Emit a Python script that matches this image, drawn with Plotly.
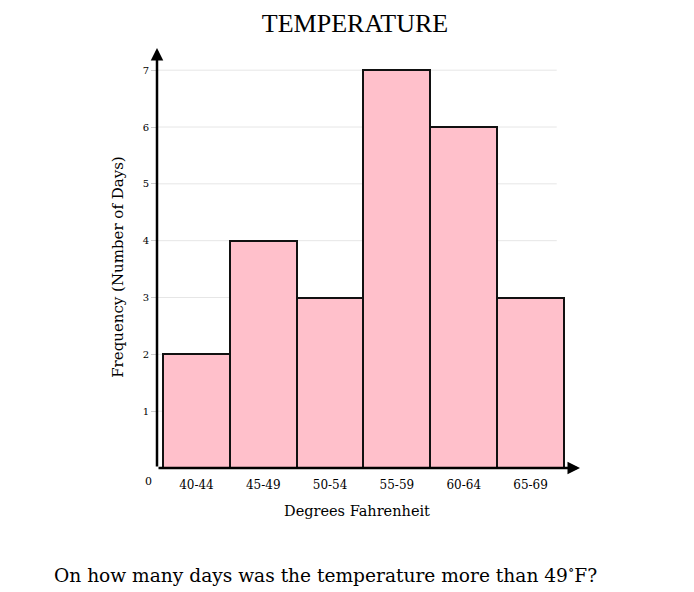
import plotly.graph_objects as go

categories = ["40-44", "45-49", "50-54", "55-59", "60-64", "65-69"]
frequencies = [2, 4, 3, 7, 6, 3]
y_ticks = [1, 2, 3, 4, 5, 6, 7]

X_MIN, X_MAX = -0.59, 5.74
Y_MAX = 7.39
SERIF = "DejaVu Serif"

fig = go.Figure()
fig.add_trace(go.Bar(
    x=list(range(len(categories))),
    y=frequencies,
    width=1,
    marker=dict(color="#FFC0CB", line=dict(color="#111111", width=2)),
    hoverinfo="skip",
))

# gridlines (end before the arrow tip, as in the reference)
for v in y_ticks:
    fig.add_shape(type="line", xref="paper", yref="y", x0=0, x1=0.945, y0=v, y1=v,
                  line=dict(color="#e6e6e6", width=1), layer="below")

annotations = [
    # axis arrows
    dict(x=X_MAX, y=0, ax=X_MIN, ay=0, xref="x", yref="y", axref="x", ayref="y",
         text="", showarrow=True, arrowhead=2, arrowsize=1, arrowwidth=2.5, arrowcolor="black"),
    dict(x=X_MIN, y=Y_MAX, ax=X_MIN, ay=0, xref="x", yref="y", axref="x", ayref="y",
         text="", showarrow=True, arrowhead=2, arrowsize=1, arrowwidth=2.5, arrowcolor="black"),
    # zero label
    dict(x=0, y=0, xref="paper", yref="y", text="0", showarrow=False,
         xanchor="center", yanchor="middle", xshift=-9, yshift=-13,
         font=dict(family=SERIF, size=11, color="black")),
    # axis titles
    dict(x=0.473, y=0, xref="paper", yref="paper", text="Degrees Fahrenheit", showarrow=False,
         xanchor="center", yanchor="middle", yshift=-43,
         font=dict(family=SERIF, size=14.5, color="black")),
    dict(x=0, y=0.479, xref="paper", yref="paper", text="Frequency (Number of Days)", showarrow=False,
         textangle=-90, xanchor="center", yanchor="middle", xshift=-39,
         font=dict(family=SERIF, size=15, color="black")),
    # question
    dict(x=0, y=0, xref="paper", yref="paper",
         text="On how many days was the temperature more than 49<sup>∘</sup>F?",
         showarrow=False, xanchor="left", yanchor="middle", xshift=-105, yshift=-106,
         font=dict(family=SERIF, size=18.6, color="black")),
]

fig.update_layout(
    width=694, height=592,
    margin=dict(l=149, r=122, t=40, b=132),
    paper_bgcolor="white", plot_bgcolor="white",
    showlegend=False,
    bargap=0,
    title=dict(text="TEMPERATURE", x=347 / 694, xanchor="center", y=1 - 15 / 592, yanchor="middle",
               xref="container", yref="container",
               font=dict(family="Liberation Serif", size=26, color="black")),
    xaxis=dict(range=[X_MIN, X_MAX], tickvals=list(range(len(categories))), ticktext=categories,
               showgrid=False, zeroline=False, showline=False, ticks="",
               ticklabelstandoff=8,
               tickfont=dict(family=SERIF, size=12, color="black")),
    yaxis=dict(range=[0, Y_MAX], tickvals=y_ticks, showgrid=False, zeroline=False, showline=False,
               ticks="outside", ticklen=5, tickcolor="#cccccc",
               tickfont=dict(family=SERIF, size=10, color="black")),
    annotations=annotations,
)

fig.write_html("out.html")
